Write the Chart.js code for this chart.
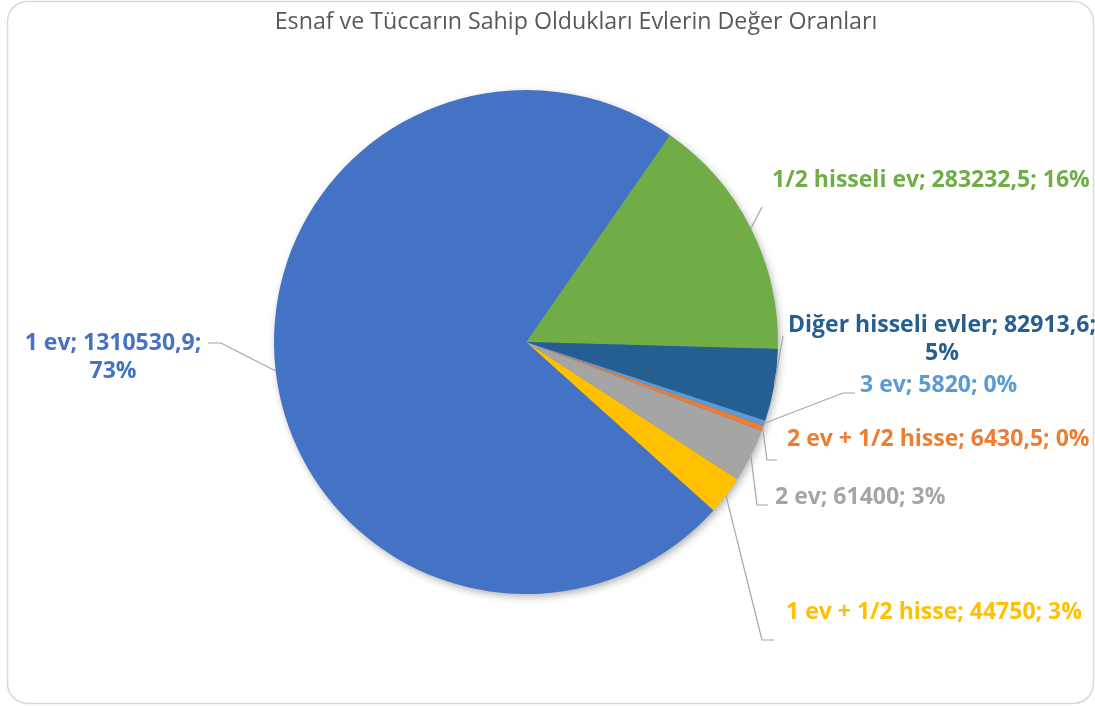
<!DOCTYPE html>
<html>
<head>
<meta charset="utf-8">
<script src="https://cdn.jsdelivr.net/npm/chart.js@4"></script>
<style>
  body { margin: 0; background: #fff; }
  #chart-container { width: 1095px; height: 706px; }
</style>
</head>
<body>
<div id="chart-container"><canvas id="ev-chart" width="1095" height="706"></canvas></div>
<script>
// data, in the order the slices go round (clockwise, starting at the green one)
const categories = ['1/2 hisseli ev', 'Diğer hisseli evler', '3 ev', '2 ev + 1/2 hisse', '2 ev', '1 ev + 1/2 hisse', '1 ev'];
const values = [283232.5, 82913.6, 5820, 6430.5, 61400, 44750, 1310530.9];
// percentages as printed on the chart
const percents = [16, 5, 0, 0, 3, 3, 73];
const colors = ['#70AD47', '#255E91', '#5B9BD5', '#ED7D31', '#A5A5A5', '#FFC000', '#4472C4'];
const chartTitle = 'Esnaf ve Tüccarın Sahip Oldukları Evlerin Değer Oranları';

// where each data label sits and how its leader line bends
const labelLayout = [
    { x: 772, y: 180, align: 'left', wrap: false, bend: [[762, 207]] },
    { x: 942, y: 325, align: 'center', wrap: true, bend: [[783, 336]] },
    { x: 860, y: 385, align: 'left', wrap: false, bend: [[855, 393], [843, 393]] },
    { x: 787, y: 439, align: 'left', wrap: false, bend: [[777, 460], [767, 460]] },
    { x: 775, y: 497, align: 'left', wrap: false, bend: [[768, 505], [757, 505]] },
    { x: 786, y: 612, align: 'left', wrap: false, bend: [[774, 640], [762, 640]] },
    { x: 113, y: 343, align: 'center', wrap: true, bend: [[208, 343], [221, 343]] },
];

const fmt = (v) => String(v).replace('.', ',');

const labelText = (i) => {
    const pct = percents[i] + '%';
    const head = `${categories[i]}; ${fmt(values[i])};`;
    return labelLayout[i].wrap ? [head, pct] : [`${head} ${pct}`];
};

const frame = {
    id: 'frame',
    beforeDraw(chart) {
        const ctx = chart.ctx;
        ctx.save();
        ctx.fillStyle = '#ffffff';
        ctx.fillRect(0, 0, chart.width, chart.height);
        ctx.beginPath();
        ctx.roundRect(7.5, 1.5, 1086, 702, 20);
        ctx.strokeStyle = '#D9D9D9';
        ctx.lineWidth = 1.5;
        ctx.stroke();

        // title
        ctx.fillStyle = '#595959';
        ctx.textAlign = 'center';
        ctx.textBaseline = 'middle';
        let size = 20;
        ctx.font = `${size}px "Open Sans"`;
        size = size * 603 / ctx.measureText(chartTitle).width;
        ctx.font = `${size}px "Open Sans"`;
        ctx.fillText(chartTitle, 576, 22);
        ctx.restore();
    },
    beforeDatasetsDraw(chart) {
        // soft shadow under the whole pie
        const arc = chart.getDatasetMeta(0).data[0];
        const ctx = chart.ctx;
        ctx.save();
        ctx.beginPath();
        ctx.arc(arc.x, arc.y, arc.outerRadius - 1, 0, Math.PI * 2);
        ctx.fillStyle = '#4472C4';
        ctx.shadowColor = 'rgba(0,0,0,0.35)';
        ctx.shadowBlur = 8;
        ctx.shadowOffsetX = 2;
        ctx.shadowOffsetY = 3;
        ctx.fill();
        ctx.restore();
    }
};

const dataLabels = {
    id: 'dataLabels',
    afterDatasetsDraw(chart) {
        const ctx = chart.ctx;
        const meta = chart.getDatasetMeta(0);
        ctx.save();

        // pick a font size so the green label has the same width as in the picture
        let size = 19;
        ctx.font = `bold ${size}px "Open Sans"`;
        size = size * 318 / ctx.measureText(labelText(0)[0]).width;
        ctx.font = `bold ${size}px "Open Sans"`;

        meta.data.forEach((arc, i) => {
            const lay = labelLayout[i];
            const mid = (arc.startAngle + arc.endAngle) / 2;
            const sx = arc.x + Math.cos(mid) * arc.outerRadius;
            const sy = arc.y + Math.sin(mid) * arc.outerRadius;

            // leader line
            ctx.beginPath();
            ctx.moveTo(lay.bend[0][0], lay.bend[0][1]);
            lay.bend.slice(1).forEach(p => ctx.lineTo(p[0], p[1]));
            ctx.lineTo(sx, sy);
            ctx.strokeStyle = '#A6A6A6';
            ctx.lineWidth = 1.2;
            ctx.stroke();

            // text
            ctx.fillStyle = colors[i];
            ctx.textAlign = lay.align;
            ctx.textBaseline = 'middle';
            labelText(i).forEach((line, k) => {
                ctx.fillText(line, lay.x, lay.y + k * 28.5);
            });
        });
        ctx.restore();
    }
};

const ctx = document.getElementById('ev-chart').getContext('2d');
new Chart(ctx, {
    type: 'pie',
    data: {
        labels: categories,
        datasets: [{
            data: values,
            backgroundColor: colors,
            borderWidth: 0,
        }]
    },
    options: {
        responsive: false,
        animation: false,
        rotation: 34.8,
        layout: {
            padding: { left: 274, right: 317, top: 90, bottom: 112 }
        },
        plugins: {
            legend: { display: false },
            tooltip: { enabled: false },
            title: { display: false },
        }
    },
    plugins: [frame, dataLabels]
});
</script>
</body>
</html>
